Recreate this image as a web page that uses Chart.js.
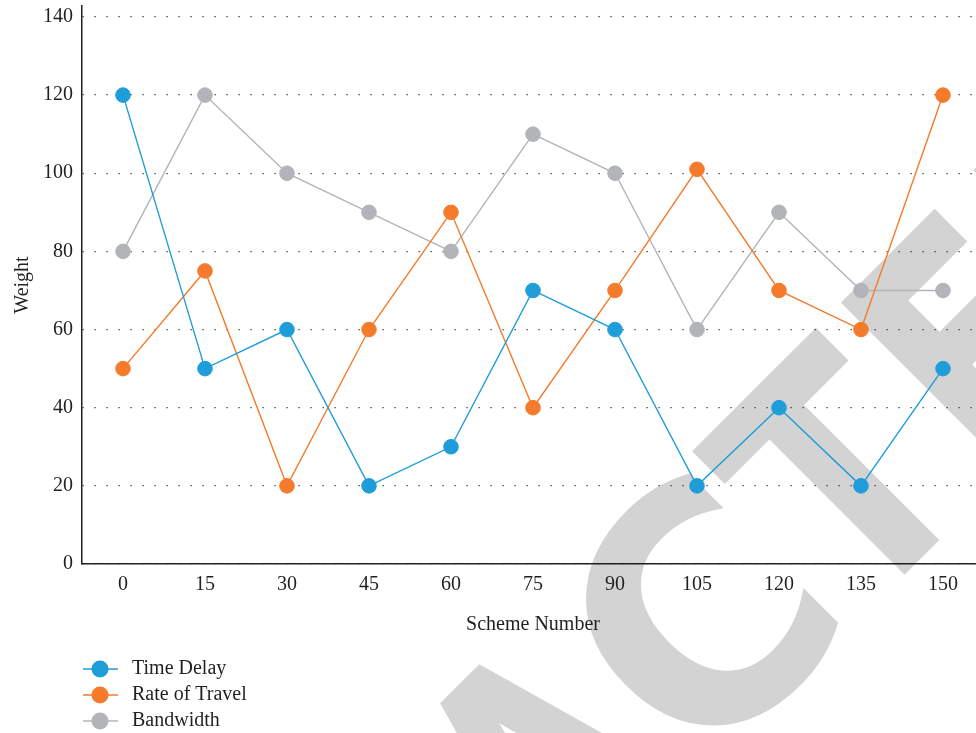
<!DOCTYPE html>
<html>
<head>
<meta charset="utf-8">
<title>Weight by Scheme Number</title>
<script src="https://cdn.jsdelivr.net/npm/chart.js@4.4.1/dist/chart.umd.min.js"></script>
<style>
  html, body { margin: 0; padding: 0; background: #ffffff; overflow: hidden; }
  #wrap { width: 984px; height: 733px; }
</style>
</head>
<body>
<div id="wrap"><canvas id="chart" width="984" height="733"></canvas></div>
<script>
// Categories along the x axis
const schemeNumbers = ['0', '15', '30', '45', '60', '75', '90', '105', '120', '135', '150'];

// Series values
const timeDelay    = [120, 50, 60, 20, 30, 70, 60, 20, 40, 20, 50];
const rateOfTravel = [50, 75, 20, 60, 90, 40, 70, 101, 70, 60, 120];
const bandwidth    = [80, 120, 100, 90, 80, 110, 100, 60, 90, 70, 70];

// Tick values on the weight axis
const weightTicks = [0, 20, 40, 60, 80, 100, 120, 140];

// Series names and colours
const seriesNames  = ['Time Delay', 'Rate of Travel', 'Bandwidth'];
const seriesColors = ['#1e9dd8', '#f47b2b', '#b3b4b7'];

const textColor = '#231f20';
const serif = "'Liberation Serif', 'Times New Roman', serif";
const labelFont = { family: serif, size: 20 };

// Diagonal stamp: word, letter extents along its baseline, cap line and baseline
const WATERMARK_TEXT = 'RETRACTED';
const stampLayout = {
  extents: [[-1010, -840], [-820, -677], [-660, -480], [-460, -280],
            [-254, -61], [-43, 153], [169, 348], [377, 520], [564, 760]],
  capTop: 805,
  baseline: 1046,
  color: '#d3d3d3',
  font: "'DejaVu Sans', sans-serif"
};

const stampPlugin = {
  id: 'stamp',
  beforeDraw(chart) {
    const ctx = chart.ctx;
    ctx.save();
    ctx.fillStyle = '#ffffff';
    ctx.fillRect(0, 0, chart.width, chart.height);
    ctx.rotate(-Math.PI / 4);
    ctx.font = '700 100px ' + stampLayout.font;
    const capRef = ctx.measureText('T').actualBoundingBoxAscent;
    const size = 100 * (stampLayout.baseline - stampLayout.capTop) / capRef;
    ctx.font = '700 ' + size + 'px ' + stampLayout.font;
    ctx.fillStyle = stampLayout.color;
    ctx.textBaseline = 'alphabetic';
    ctx.textAlign = 'left';
    WATERMARK_TEXT.split('').forEach((ch, i) => {
      const m = ctx.measureText(ch);
      const l = m.actualBoundingBoxLeft;
      const r = m.actualBoundingBoxRight;
      const [u0, u1] = stampLayout.extents[i];
      ctx.save();
      ctx.translate(u0, 0);
      ctx.scale((u1 - u0) / (l + r), 1);
      ctx.fillText(ch, l, stampLayout.baseline);
      ctx.restore();
    });
    ctx.restore();
  }
};

// Stacked legend under the x-axis title
const stackedLegend = {
  id: 'stackedLegend',
  afterDraw(chart) {
    const ctx = chart.ctx;
    const left = chart.chartArea.left + 1;
    const top = chart.scales.x.bottom + 32;
    chart.data.datasets.forEach((ds, i) => {
      const y = top + i * 26;
      ctx.save();
      ctx.strokeStyle = ds.borderColor;
      ctx.lineWidth = 1.5;
      ctx.beginPath();
      ctx.moveTo(left, y);
      ctx.lineTo(left + 35, y);
      ctx.stroke();
      ctx.fillStyle = ds.pointBackgroundColor;
      ctx.beginPath();
      ctx.arc(left + 17, y, 8.5, 0, Math.PI * 2);
      ctx.fill();
      ctx.fillStyle = textColor;
      ctx.font = '20px ' + serif;
      ctx.textBaseline = 'middle';
      ctx.textAlign = 'left';
      ctx.fillText(ds.label, left + 49, y);
      ctx.restore();
    });
  }
};

const seriesValues = [timeDelay, rateOfTravel, bandwidth];

const datasets = seriesValues.map((values, i) => ({
  label: seriesNames[i],
  data: values,
  borderColor: seriesColors[i],
  backgroundColor: seriesColors[i],
  pointBackgroundColor: seriesColors[i],
  pointBorderColor: seriesColors[i],
  pointBorderWidth: 1,
  pointRadius: 7.3,
  pointHoverRadius: 7.3,
  borderWidth: 1.4,
  tension: 0,
  fill: false
}));

function noEdgePadding(scale) {
  scale.paddingTop = 0;
  scale.paddingBottom = 0;
  scale.paddingLeft = 0;
  scale.paddingRight = 0;
}

new Chart(document.getElementById('chart'), {
  type: 'line',
  data: { labels: schemeNumbers, datasets },
  options: {
    responsive: false,
    animation: false,
    layout: { padding: { top: 6, right: 0, bottom: 96, left: 0 }, autoPadding: false },
    plugins: {
      legend: { display: false },
      tooltip: { enabled: false }
    },
    scales: {
      x: {
        type: 'category',
        offset: true,
        grid: { display: false, drawTicks: false },
        border: { display: true, color: textColor, width: 1.5 },
        ticks: { font: labelFont, color: textColor, padding: 9, maxRotation: 0, autoSkip: false },
        title: { display: true, text: 'Scheme Number', font: labelFont, color: textColor, padding: { top: 0, bottom: 0 } },
        afterFit(scale) { scale.height = 73; noEdgePadding(scale); }
      },
      y: {
        type: 'linear',
        min: 0,
        max: 142.8,
        afterBuildTicks(scale) { scale.ticks = weightTicks.map(v => ({ value: v })); },
        grid: { color: '#2a2a2a', lineWidth: 1.2, drawTicks: false },
        border: { display: true, color: textColor, width: 1.5, dash: [1.2, 10.8] },
        ticks: { font: labelFont, color: textColor, padding: 9 },
        title: { display: true, text: 'Weight', font: labelFont, color: textColor, padding: { top: 11, bottom: 0 } },
        afterFit(scale) { scale.width = 82; noEdgePadding(scale); }
      }
    }
  },
  plugins: [stampPlugin, stackedLegend]
});
</script>
</body>
</html>
